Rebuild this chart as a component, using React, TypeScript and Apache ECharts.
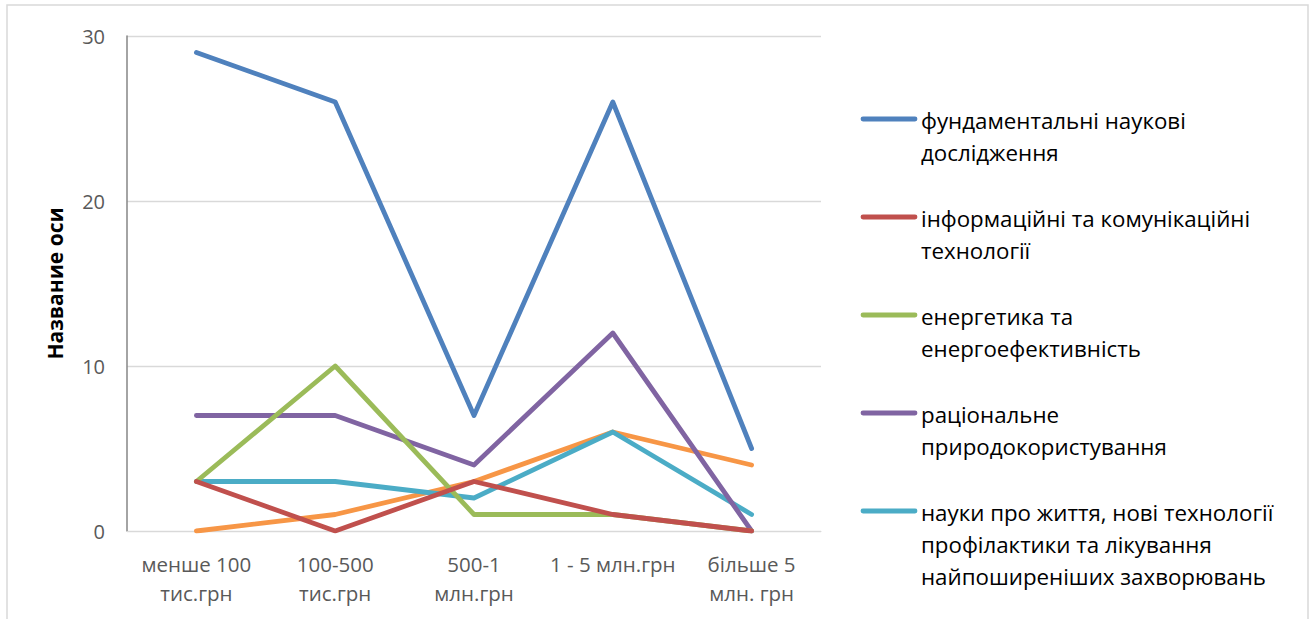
import React, { useEffect, useRef } from "react";
import * as echarts from "echarts";

const categories = ["менше 100\nтис.грн", "100-500\nтис.грн", "500-1\nмлн.грн", "1 - 5 млн.грн", "більше 5\nмлн. грн"];
const seriesNames = [
  "фундаментальні наукові дослідження",
  "інформаційні та комунікаційні технології",
  "енергетика та енергоефективність",
  "раціональне природокористування",
  "науки про життя, нові технології профілактики та лікування найпоширеніших захворювань",
  "інші",
];
const legendLines = [
  ["фундаментальні наукові", "дослідження"],
  ["інформаційні та комунікаційні", "технології"],
  ["енергетика та", "енергоефективність"],
  ["раціональне", "природокористування"],
  ["науки про життя, нові технології", "профілактики та лікування", "найпоширеніших захворювань"],
];
const fundamental = [29, 26, 7, 26, 5];
const ict = [3, 0, 3, 1, 0];
const energy = [3, 10, 1, 1, 0];
const nature = [7, 7, 4, 12, 0];
const life = [3, 3, 2, 6, 1];
const other = [0, 1, 3, 6, 4];
const colors = ["#4F81BD", "#C0504D", "#9BBB59", "#8064A2", "#4BACC6", "#F79646"];
const yTicks = { min: 0, max: 30, interval: 10 };
const axisName = "Название оси";

export default function App() {
  const ref = useRef<HTMLDivElement>(null);
  useEffect(() => {
    if (!ref.current) return;
    const chart = echarts.init(ref.current, null, { renderer: "svg" });
    const font = "'Open Sans', 'Noto Sans', sans-serif";
    const data = [fundamental, ict, energy, nature, life, other];
    const legendGraphics: any[] = [];
    const legendTop = [119, 217, 315, 413, 511];
    legendLines.forEach((lines, i) => {
      legendGraphics.push({
        type: "line",
        shape: { x1: 863, y1: legendTop[i], x2: 915, y2: legendTop[i] },
        style: { stroke: colors[i], lineWidth: 4.8, lineCap: "round" },
      });
      lines.forEach((t, j) => {
        legendGraphics.push({
          type: "text",
          x: 921,
          y: legendTop[i] + j * 32 + 1,
          style: { text: t, fill: "#000", font: `22.3px ${font}`, verticalAlign: "middle" },
        });
      });
    });
    chart.setOption({
      animation: false,
      backgroundColor: "#fff",
      grid: { left: 127, right: 488, top: 36, bottom: 88, containLabel: false },
      xAxis: {
        type: "category",
        data: categories,
        boundaryGap: true,
        axisLine: { show: true, lineStyle: { color: "#d9d9d9", width: 1 } },
        axisTick: { show: false },
        axisLabel: { color: "#595959", fontSize: 20.5, fontFamily: font, lineHeight: 29, margin: 18, interval: 0 },
      },
      yAxis: {
        type: "value",
        min: yTicks.min,
        max: yTicks.max,
        interval: yTicks.interval,
        name: axisName,
        nameLocation: "middle",
        nameGap: 62,
        nameRotate: 90,
        nameTextStyle: { color: "#000", fontSize: 21, fontWeight: "bold", fontFamily: font },
        axisLine: { show: true, lineStyle: { color: "#868686", width: 1.5 } },
        axisTick: { show: false },
        axisLabel: { color: "#595959", fontSize: 20, fontFamily: font, margin: 22 },
        splitLine: { lineStyle: { color: "#d9d9d9", width: 1.3 } },
      },
      series: data.map((d, i) => ({
        name: seriesNames[i],
        type: "line",
        data: d,
        symbol: "none",
        lineStyle: { color: colors[i], width: 4.8, cap: "round", join: "round" },
        itemStyle: { color: colors[i] },
        z: 10 - i,
      })),
      graphic: [
        {
          type: "rect",
          shape: { x: 7, y: 5, width: 1301, height: 640 },
          style: { fill: "none", stroke: "#d9d9d9", lineWidth: 1.5 },
          silent: true,
        },
        ...legendGraphics,
      ],
    });
    return () => chart.dispose();
  }, []);
  return <div ref={ref} style={{ position: "fixed", left: 0, top: 0, width: 1309, height: 619 }} />;
}
